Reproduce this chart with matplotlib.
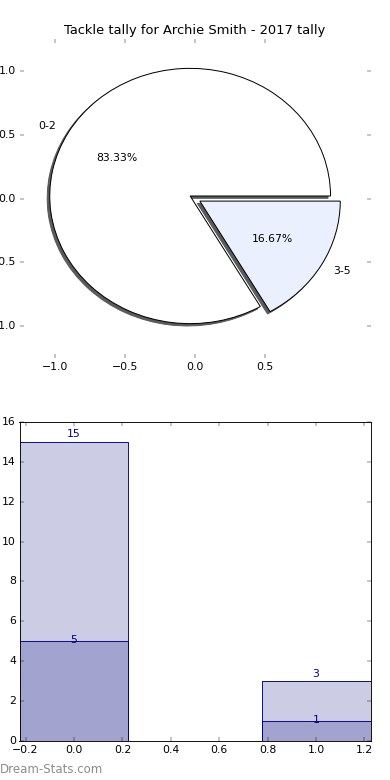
import matplotlib
matplotlib.use("Agg")
import matplotlib.pyplot as plt

plt.style.use("classic")

# ---- data ----
pie_labels = ["0-2", "3-5"]
pie_values = [15, 3]
pie_colors = ["#ffffff", "#eaf0fd"]
pie_explode = [0.04, 0.04]

bar_x = [0, 1]
bar_total = [15, 3]
bar_part = [5, 1]

title = "Tackle tally for Archie Smith - 2017 tally"
watermark = "Dream-Stats.com"

BAR_W = 0.45

fig = plt.figure(figsize=(6, 12), dpi=65, facecolor="white")
fig.subplots_adjust(left=0.05, right=0.95, bottom=0.05, top=0.95, hspace=0.2)

# ---- pie ----
ax1 = fig.add_subplot(2, 1, 1)
ax1.pie(pie_values, labels=pie_labels, colors=pie_colors, explode=pie_explode,
        autopct="%1.2f%%",
        shadow={"ox": -0.02, "oy": -0.02, "facecolor": "#5a5a5a",
                "edgecolor": "#5a5a5a", "alpha": 1.0, "zorder": 0.9},
        wedgeprops={"edgecolor": "black", "linewidth": 1.1})
ax1.set_aspect("auto")
ax1.set_xlim(-1.25, 1.25)
ax1.set_ylim(-1.25, 1.25)
ax1.set_xticks([-1.0, -0.5, 0.0, 0.5])
ax1.set_yticks([-1.0, -0.5, 0.0, 0.5, 1.0])
ax1.set_frame_on(False)
ax1.set_title(title)

# ---- bars ----
ax2 = fig.add_subplot(2, 1, 2)
ax2.bar(bar_x, bar_total, width=BAR_W, align="center",
        color="navy", alpha=0.2, edgecolor="none")
ax2.bar(bar_x, bar_total, width=BAR_W, align="center",
        facecolor="none", edgecolor="navy", linewidth=1.0)
ax2.bar(bar_x, bar_part, width=BAR_W, align="center",
        color="navy", alpha=0.2, edgecolor="none")
ax2.bar(bar_x, bar_part, width=BAR_W, align="center",
        facecolor="none", edgecolor="navy", linewidth=1.0)
for x, h in zip(bar_x, bar_total):
    ax2.text(x, h + 0.12, str(h), ha="center", va="bottom", color="navy")
for x, h in zip(bar_x, bar_part):
    ax2.text(x, h + 0.05, str(h), ha="center", va="center", color="navy")
ax2.set_xlim(min(bar_x) - BAR_W / 2, max(bar_x) + BAR_W / 2)
ax2.set_ylim(0, 16)

fig.text(0.0, 0.005, watermark, color="#8c8c8c", fontsize=13,
         ha="left", va="bottom")

fig.savefig("out.png", dpi=65, facecolor="white")
